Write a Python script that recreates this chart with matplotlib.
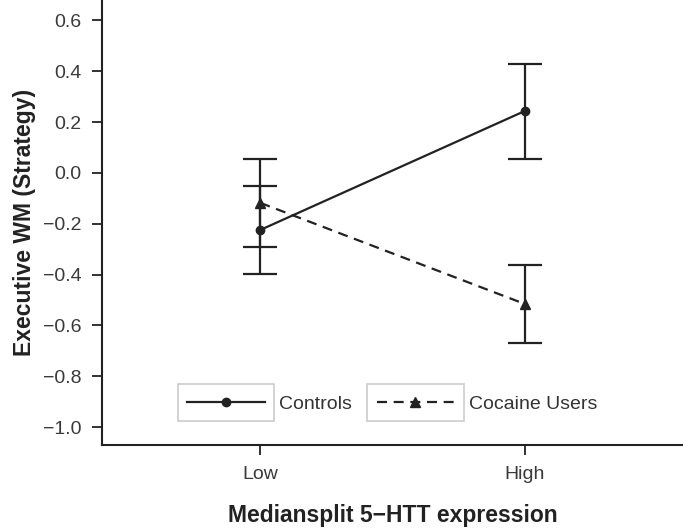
import matplotlib
matplotlib.use("Agg")
import matplotlib.pyplot as plt
from matplotlib.patches import Rectangle
from matplotlib.lines import Line2D

plt.rcParams['font.family'] = ['Liberation Sans', 'DejaVu Sans']

groups = ['Low', 'High']
controls = [-0.224, 0.243]
controls_err = [0.173, 0.187]
cocaine = [-0.118, -0.515]
cocaine_err = [0.173, 0.153]

ink = '#222222'
dash = (0, (4.5, 3))
W, H = 683, 528
fig = plt.figure(figsize=(W / 100, H / 100), dpi=100)
ax = fig.add_axes([102 / W, 83 / H, 1 - 102 / W, 1 - 83 / H])

x = [1, 2]
ax.errorbar(x, controls, yerr=controls_err, color=ink, lw=1.6, marker='o', ms=6,
            capsize=12.5, capthick=1.6, elinewidth=1.6)
ax.errorbar(x, cocaine, yerr=cocaine_err, color=ink, lw=1.6, marker='^', ms=7,
            ls=dash, capsize=12.5, capthick=1.6, elinewidth=1.6)

ax.set_xlim(0.4, 2.6)
ax.set_ylim(-1.07, 0.68)
ax.set_xticks(x)
ax.set_xticklabels(groups)
ax.set_yticks([-1.0, -0.8, -0.6, -0.4, -0.2, 0.0, 0.2, 0.4, 0.6])
ax.set_yticklabels(['\u22121.0', '\u22120.8', '\u22120.6', '\u22120.4', '\u22120.2',
                    '0.0', '0.2', '0.4', '0.6'])
for s in ['top', 'right']:
    ax.spines[s].set_visible(False)
for s in ['left', 'bottom']:
    ax.spines[s].set_linewidth(1.5)
    ax.spines[s].set_color(ink)
ax.tick_params(axis='both', length=7, width=1.3, color=ink, labelsize=14,
               labelcolor='#3a3a3a')
ax.tick_params(axis='y', pad=8)
ax.tick_params(axis='x', pad=8)

ax.set_xlabel('Mediansplit 5\u2212HTT expression', fontsize=16.5, fontweight='bold',
              color=ink, labelpad=15)
ax.set_ylabel('Executive WM (Strategy)', fontsize=16.5, fontweight='bold', color=ink,
              labelpad=5)

handles = [Line2D([], [], color=ink, lw=1.6, marker='o', ms=6),
           Line2D([], [], color=ink, lw=1.6, marker='^', ms=7, ls=dash)]
leg = fig.legend(handles, ['Controls', 'Cocaine Users'], loc='center left',
                 bbox_to_anchor=(187 / W, 1 - 404 / H), bbox_transform=fig.transFigure,
                 ncol=2, frameon=False, fontsize=14, handlelength=4.0,
                 columnspacing=1.25, handletextpad=0.75, borderpad=0, borderaxespad=0)
for t in leg.get_texts():
    t.set_color('#333333')

# individual boxes around each legend key
fig.canvas.draw()
r = fig.canvas.get_renderer()
for ln in leg.get_lines():
    bb = ln.get_window_extent(r)
    cy = (bb.y0 + bb.y1) / 2
    fig.patches.append(Rectangle(((bb.x0 - 5) / W, (cy - 18.5) / H), (bb.width + 10) / W,
                                 37 / H, transform=fig.transFigure, fill=False,
                                 edgecolor='#cccccc', lw=1.2))

fig.savefig('out.png', dpi=100)
